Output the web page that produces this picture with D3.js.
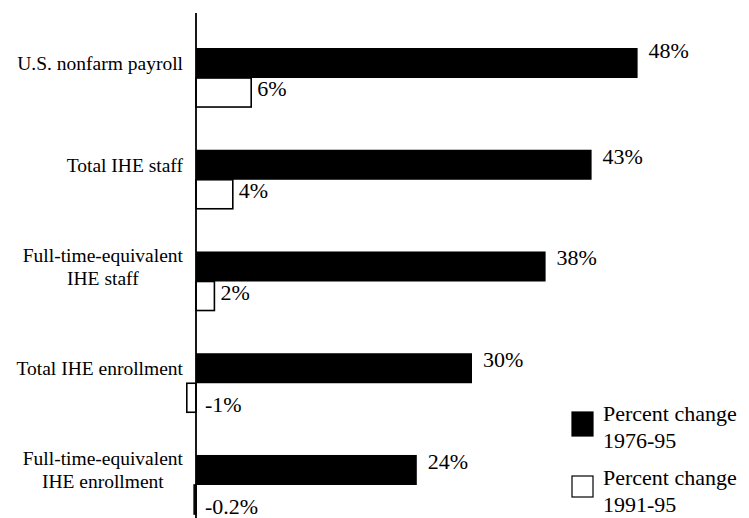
<!DOCTYPE html>
<html><head><meta charset="utf-8">
<script src="https://cdn.jsdelivr.net/npm/d3@7"></script>
<style>body{margin:0;background:#fff}svg{display:block}</style>
</head><body>
<svg id="c" width="749" height="518"></svg>
<script>
const categories = [
  ["U.S. nonfarm payroll"],
  ["Total IHE staff"],
  ["Full-time-equivalent", "IHE staff"],
  ["Total IHE enrollment"],
  ["Full-time-equivalent", "IHE enrollment"]
];
const change7695 = [48, 43, 38, 30, 24];
const change9195 = [6, 4, 2, -1, -0.2];
const valueLabels7695 = ["48%", "43%", "38%", "30%", "24%"];
const valueLabels9195 = ["6%", "4%", "2%", "-1%", "-0.2%"];
const legendLabels = [["Percent change", "1976-95"], ["Percent change", "1991-95"]];

const svg = d3.select("#c");
const font = "'Liberation Serif','Times New Roman',serif";
const ids = categories.map((d, i) => i);

const x = d3.scaleLinear().domain([0, 50]).range([196, 656]);
const y = d3.scaleBand().domain(ids).range([48, 515]).paddingInner(0.41).paddingOuter(0);
const ySub = d3.scaleBand().domain(["a", "b"]).range([0, y.bandwidth()]);

// black bars
svg.selectAll(".b1").data(ids).join("rect")
  .attr("x", i => x(Math.min(0, change7695[i])))
  .attr("y", i => y(i) + ySub("a"))
  .attr("width", i => Math.abs(x(change7695[i]) - x(0)))
  .attr("height", ySub.bandwidth())
  .attr("fill", "#000");

// white bars
svg.selectAll(".b2").data(ids).join("rect")
  .attr("x", i => x(Math.min(0, change9195[i])))
  .attr("y", i => y(i) + ySub("b"))
  .attr("width", i => Math.abs(x(change9195[i]) - x(0)))
  .attr("height", ySub.bandwidth() - 1)
  .attr("fill", "#fff").attr("stroke", "#000").attr("stroke-width", 1.6);

// axis line
svg.append("line").attr("x1", x(0)).attr("x2", x(0)).attr("y1", 13).attr("y2", 518)
  .attr("stroke", "#000").attr("stroke-width", 1.8);

// value labels
svg.selectAll(".v1").data(ids).join("text")
  .attr("x", i => x(change7695[i]) + 11)
  .attr("y", i => y(i) + ySub("a") + (i === 0 ? 10 : 14))
  .attr("font-family", font).attr("font-size", 22)
  .text(i => valueLabels7695[i]);

svg.selectAll(".v2").data(ids).join("text")
  .attr("x", i => change9195[i] >= 0 ? x(change9195[i]) + 6 : x(0) + 9)
  .attr("y", i => y(i) + ySub("b") + (change9195[i] >= 0 ? 18 : 29))
  .attr("font-family", font).attr("font-size", 22)
  .text(i => valueLabels9195[i]);

// category labels
const labelRight = 183;
ids.forEach(i => {
  const lines = categories[i];
  const cy = y(i) + ySub("a") + ySub.bandwidth() / 2;
  const g = svg.append("g");
  const lh = 23;
  const texts = lines.map((t, k) => g.append("text")
    .attr("font-family", font).attr("font-size", 19.5)
    .attr("y", cy + (k - (lines.length - 1) / 2) * lh + 7)
    .text(t));
  const w = d3.max(texts, t => t.node().getComputedTextLength());
  texts.forEach(t => t.attr("text-anchor", "middle").attr("x", labelRight - w / 2));
});

// legend
const lg = svg.append("g");
const legY = [412, 476];
legendLabels.forEach((lbl, k) => {
  lg.append("rect").attr("x", 572).attr("y", legY[k]).attr("width", 21).attr("height", k === 0 ? 24 : 21)
    .attr("fill", k === 0 ? "#000" : "#fff").attr("stroke", "#000").attr("stroke-width", 1.2);
  lbl.forEach((t, j) => lg.append("text").attr("x", 603).attr("y", legY[k] + 9 + j * 27)
    .attr("font-family", font).attr("font-size", 22).text(t));
});
</script>
</body></html>
